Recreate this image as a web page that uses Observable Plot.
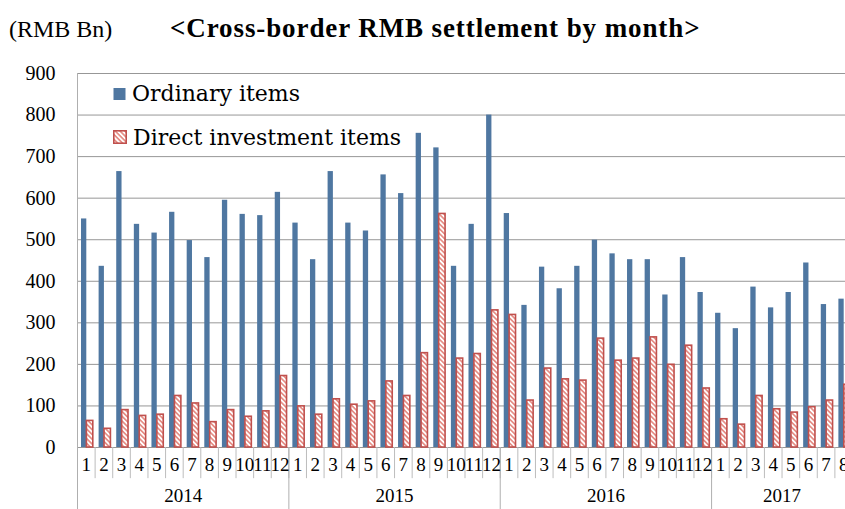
<!DOCTYPE html>
<html>
<head>
<meta charset="utf-8">
<script src="https://cdn.jsdelivr.net/npm/d3@7"></script>
<script src="https://cdn.jsdelivr.net/npm/@observablehq/plot@0.6"></script>
<style>
  html, body { margin: 0; padding: 0; background: #fff; overflow: hidden; width: 845px; height: 509px; }
  #wrap { position: relative; width: 845px; height: 509px; overflow: hidden; }
  #head { position: relative; height: 55px; }
  .unit { position: absolute; left: 9px; top: 17px; font: 24px/1 "Liberation Serif", serif; }
  .title { position: absolute; left: 170px; top: 15px; font: bold 27px/1 "Liberation Serif", serif; letter-spacing: 0.9px; white-space: nowrap; }
  .legend { position: absolute; left: 113px; font: 22px/1 "DejaVu Serif", serif; white-space: nowrap; }
  .legend svg { vertical-align: baseline; margin-right: 6px; }
  #chart svg text { font-family: "Liberation Serif", serif; }
</style>
</head>
<body>
<svg width="0" height="0" style="position:absolute">
  <defs>
    <pattern id="hatch" patternUnits="userSpaceOnUse" width="3.4" height="3.4" patternTransform="rotate(-45)">
      <rect width="3.4" height="3.4" fill="#ffffff"></rect>
      <rect width="1.7" height="3.4" fill="#E58F87"></rect>
    </pattern>
  </defs>
</svg>
<div id="wrap">
  <div id="head">
    <div class="unit">(RMB Bn)</div>
    <div class="title">&lt;Cross-border RMB settlement by month&gt;</div>
  </div>
  <div id="chart"></div>
  <div class="legend" id="leg1" style="top:83px"></div>
  <div class="legend" id="leg2" style="top:127px"></div>
</div>
<script>
// ---- data ----
const yearLabels = ["2014", "2015", "2016", "2017"];
const monthLabels = ["1","2","3","4","5","6","7","8","9","10","11","12"];
const seriesNames = ["Ordinary items", "Direct investment items"];
const ordinary = [
  550, 436, 664, 537, 516, 566, 498, 457, 595, 561, 558, 614,
  540, 452, 664, 540, 521, 656, 611, 756, 721, 436, 537, 800,
  563, 342, 434, 382, 436, 499, 466, 452, 452, 367, 457, 373,
  323, 286, 386, 336, 373, 444, 344, 357
];
const direct = [
   64,  45,  90,  76,  79, 124, 106,  61,  90,  74,  87, 172,
   99,  79, 116, 103, 111, 159, 124, 227, 562, 214, 225, 330,
  319, 113, 190, 164, 161, 262, 209, 214, 265, 199, 245, 142,
   68,  55, 124,  92,  84,  97, 113, 151
];
const yTicks = [0, 100, 200, 300, 400, 500, 600, 700, 800, 900];

// ---- derived table ----
const rows = ordinary.map((v, i) => ({
  key: yearLabels[Math.floor(i / 12)] + "-" + monthLabels[i % 12],
  year: yearLabels[Math.floor(i / 12)],
  month: monthLabels[i % 12],
  ordinary: v,
  direct: direct[i]
}));
const yearRows = yearLabels.map((y, j) => {
  const ms = rows.filter(r => r.year === y);
  return {year: y, startKey: ms[0].key, midKey: ms[ms.length / 2].key, first: j === 0};
});

const W = 852, H = 454, ML = 77, MR = 0, MT = 18, MB = 62;
const bw = (W - ML - MR) / rows.length;
const blue = "#4F77A1", red = "#C0504D";
const serif = "Liberation Serif";

const chart = Plot.plot({
  width: W, height: H,
  marginLeft: ML, marginRight: MR, marginTop: MT, marginBottom: MB,
  style: {fontFamily: serif, fontSize: "20px", color: "#000", background: "#fff", maxWidth: "none", overflow: "visible"},
  x: {type: "band", domain: rows.map(r => r.key), padding: 0, round: false, axis: null},
  y: {domain: [0, 900], axis: null},
  marks: [
    Plot.ruleY(yTicks, {stroke: "#979797", strokeWidth: 1}),
    Plot.ruleX(rows, {x: "key", dx: -bw / 2, y1: 0, y2: -75, stroke: "#BDBDBD", strokeWidth: 1}),
    Plot.ruleX(yearRows, {x: "startKey", dx: -bw / 2, y1: d => d.first ? 900 : 0, y2: -150, stroke: "#AFAFAF", strokeWidth: 1}),
    Plot.barY(rows, {x: "key", y: "ordinary", fill: blue, insetLeft: 4, insetRight: bw - 9.3}),
    Plot.barY(rows, {x: "key", y: "direct", fill: "url(#hatch)", stroke: red, strokeWidth: 1.6, insetLeft: 9.4, insetRight: bw - 15.8}),
    Plot.text(yTicks, {y: d => d, text: d => String(d), frameAnchor: "left", textAnchor: "end", dx: -22, fontSize: 20, fontFamily: serif, fill: "#000"}),
    Plot.text(rows, {x: "key", text: "month", frameAnchor: "bottom", dy: 23, fontSize: 19, fontFamily: serif, fill: "#000"}),
    Plot.text(yearRows, {x: "midKey", dx: -bw / 2, text: "year", frameAnchor: "bottom", dy: 54, fontSize: 19, fontFamily: serif, fill: "#000"})
  ]
});
document.getElementById("chart").appendChild(chart);

// ---- legend ----
document.getElementById("leg1").innerHTML =
  `<svg width="13" height="13"><rect x="0.5" y="0" width="12" height="12" fill="${blue}"></rect></svg>` + seriesNames[0];
document.getElementById("leg2").innerHTML =
  `<svg width="14" height="15"><rect x="0.8" y="0.8" width="12.4" height="12.4" fill="url(#hatch)" stroke="${red}" stroke-width="1.6"></rect></svg>` + seriesNames[1];
</script>
</body>
</html>
